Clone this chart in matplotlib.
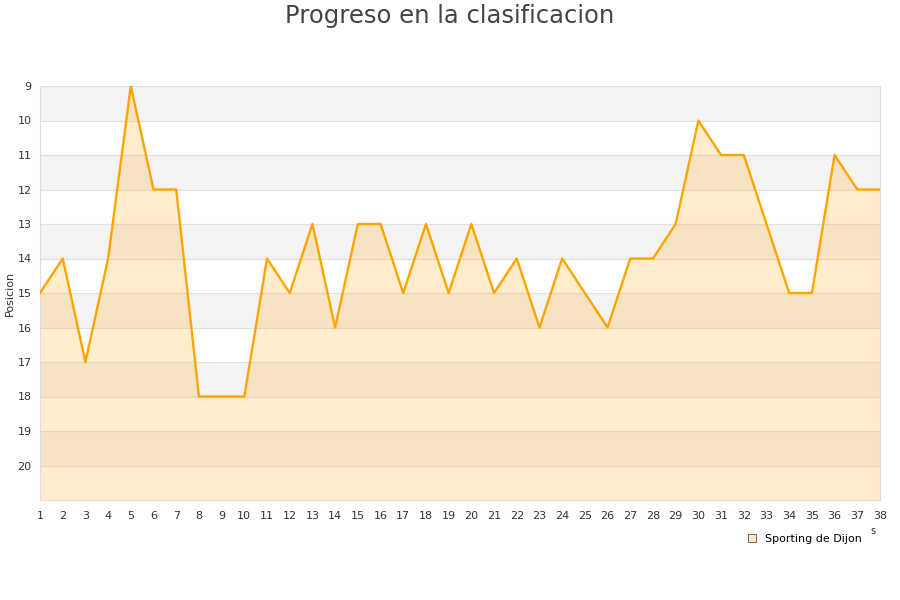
import matplotlib
matplotlib.use('Agg')
import matplotlib.pyplot as plt
from matplotlib.patches import Patch

jornadas = list(range(1, 39))
posicion = [15, 14, 17, 14, 9, 12, 12, 18, 18, 18, 14, 15, 13, 16, 13, 13, 15, 13, 15, 13,
            15, 14, 16, 14, 15, 16, 14, 14, 13, 10, 11, 11, 13, 15, 15, 11, 12, 12]
y_ticks = list(range(9, 21))
equipo = 'Sporting de Dijon'

fig = plt.figure(figsize=(9, 6), dpi=100)
ax = fig.add_axes([40 / 900, 100 / 600, 840 / 900, 414 / 600])

# bandas alternas
for y0 in range(9, 21, 2):
    ax.axhspan(y0, y0 + 1, color='#f3f3f3', zorder=0, lw=0)
for y in range(10, 21):
    ax.axhline(y, color='#e0e0e0', lw=0.8, zorder=1)

ax.fill_between(jornadas, posicion, 21, color='orange', alpha=0.2, lw=0, zorder=2)
ax.plot(jornadas, posicion, color='#ffa500', lw=1.7, zorder=3)

ax.set_xlim(1, 38)
ax.set_ylim(21, 9)
ax.set_xticks(jornadas)
ax.set_yticks(y_ticks)
ax.tick_params(length=0, labelsize=8, colors='#333333', pad=6)
ax.tick_params(axis='x', pad=8)
for s in ax.spines.values():
    s.set_color('#dddddd')
    s.set_linewidth(0.8)

ax.set_ylabel('Posicion', fontsize=8, color='#333333', labelpad=2)
fig.text(0.5, 1 - 16 / 600, 'Progreso en la clasificacion', ha='center', va='center',
         fontsize=17.5, color='#444444')

fig.text(873 / 900, 1 - 531 / 600, 's', fontsize=7, color='#333333', ha='center', va='center')

leg = fig.legend(handles=[Patch(facecolor='#fde9c3', edgecolor='#555555', lw=0.6, label=equipo)],
                 loc='center', bbox_to_anchor=(805 / 900, 1 - 539 / 600), frameon=False,
                 fontsize=8, handlelength=0.7, handleheight=0.7, handletextpad=0.8)

plt.savefig('out.png', dpi=100)
